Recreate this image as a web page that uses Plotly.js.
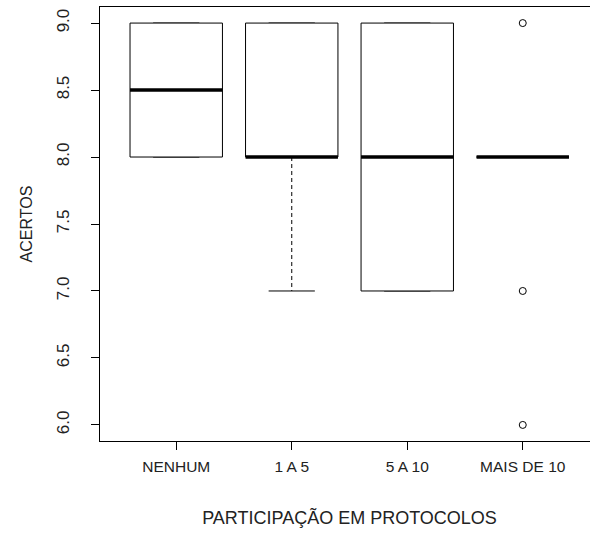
<!DOCTYPE html>
<html>
<head>
<meta charset="utf-8">
<script src="https://cdn.plot.ly/plotly-3.0.1.min.js"></script>
<style>
html, body { margin: 0; padding: 0; overflow: hidden; background: #fff; }
#chart { width: 600px; height: 534px; }
</style>
</head>
<body>
<div id="chart"></div>
<script>
// ---- data ----
const categories = ["NENHUM", "1 A 5", "5 A 10", "MAIS DE 10"];
const q1 = [8, 8, 7, 8];
const median = [8.5, 8, 8, 8];
const q3 = [9, 9, 9, 8];
const lowerWhisker = [8, 7, 7, 8];
const upperWhisker = [9, 9, 9, 8];
const outliers = [[], [], [], [9, 7, 6]];
const yTicks = [6.0, 6.5, 7.0, 7.5, 8.0, 8.5, 9.0];

// ---- build traces ----
const half = 0.4;      // half box width (data units)
const capHalf = 0.2;   // half staple width
const traces = [];
const ink = "#000";

categories.forEach((c, i) => {
  const x = i + 1;
  // whiskers (dashed)
  if (upperWhisker[i] > q3[i]) {
    traces.push({x: [x, x], y: [q3[i], upperWhisker[i]], mode: "lines",
      line: {color: ink, width: 1, dash: "4px,3px"}, hoverinfo: "skip"});
  }
  if (lowerWhisker[i] < q1[i]) {
    traces.push({x: [x, x], y: [q1[i], lowerWhisker[i]], mode: "lines",
      line: {color: ink, width: 1, dash: "4px,3px"}, hoverinfo: "skip"});
  }
  // staples
  [lowerWhisker[i], upperWhisker[i]].forEach(v => {
    traces.push({x: [x - capHalf, x + capHalf], y: [v, v], mode: "lines",
      line: {color: ink, width: 1}, hoverinfo: "skip"});
  });
  // box
  traces.push({
    x: [x - half, x + half, x + half, x - half, x - half],
    y: [q1[i], q1[i], q3[i], q3[i], q1[i]],
    mode: "lines", fill: "toself", fillcolor: "#fff",
    line: {color: ink, width: 1}, hoverinfo: "skip"
  });
  // median
  traces.push({x: [x - half, x + half], y: [median[i], median[i]], mode: "lines",
    line: {color: ink, width: 3.5}, hoverinfo: "skip"});
  // outliers
  if (outliers[i].length) {
    traces.push({x: outliers[i].map(() => x), y: outliers[i], mode: "markers",
      marker: {symbol: "circle-open", size: 7, color: ink, line: {width: 1, color: ink}},
      hoverinfo: "skip"});
  }
});

const font = {family: "'Liberation Sans', Arial, sans-serif", color: "#222"};

const layout = {
  width: 600, height: 534,
  margin: {l: 100, r: 1, t: 7, b: 93},
  paper_bgcolor: "#fff", plot_bgcolor: "#fff",
  showlegend: false,
  font: Object.assign({size: 15.5}, font),
  xaxis: {
    range: [0.34, 4.66],
    tickmode: "array", tickvals: categories.map((c, i) => i + 1), ticktext: categories,
    ticks: "outside", ticklen: 8, tickcolor: ink, tickwidth: 1,
    ticklabelstandoff: 3,
    showline: true, mirror: true, linecolor: ink, linewidth: 1,
    showgrid: false, zeroline: false,
    tickfont: Object.assign({size: 15.5}, font),
    title: {text: "PARTICIPAÇÃO EM PROTOCOLOS", font: Object.assign({size: 18}, font), standoff: 37},
    automargin: false
  },
  yaxis: {
    range: [5.88, 9.12],
    tickmode: "array", tickvals: yTicks, ticktext: yTicks.map(v => v.toFixed(1)),
    tickangle: -90,
    ticks: "outside", ticklen: 8, tickcolor: ink, tickwidth: 1,
    ticklabelstandoff: 15,
    showline: true, mirror: true, linecolor: ink, linewidth: 1,
    showgrid: false, zeroline: false,
    tickfont: Object.assign({size: 17}, font),
    title: {text: "ACERTOS", font: Object.assign({size: 16}, font), standoff: 17},
    automargin: false
  }
};

Plotly.newPlot("chart", traces, layout, {displayModeBar: false, staticPlot: true});
</script>
</body>
</html>
